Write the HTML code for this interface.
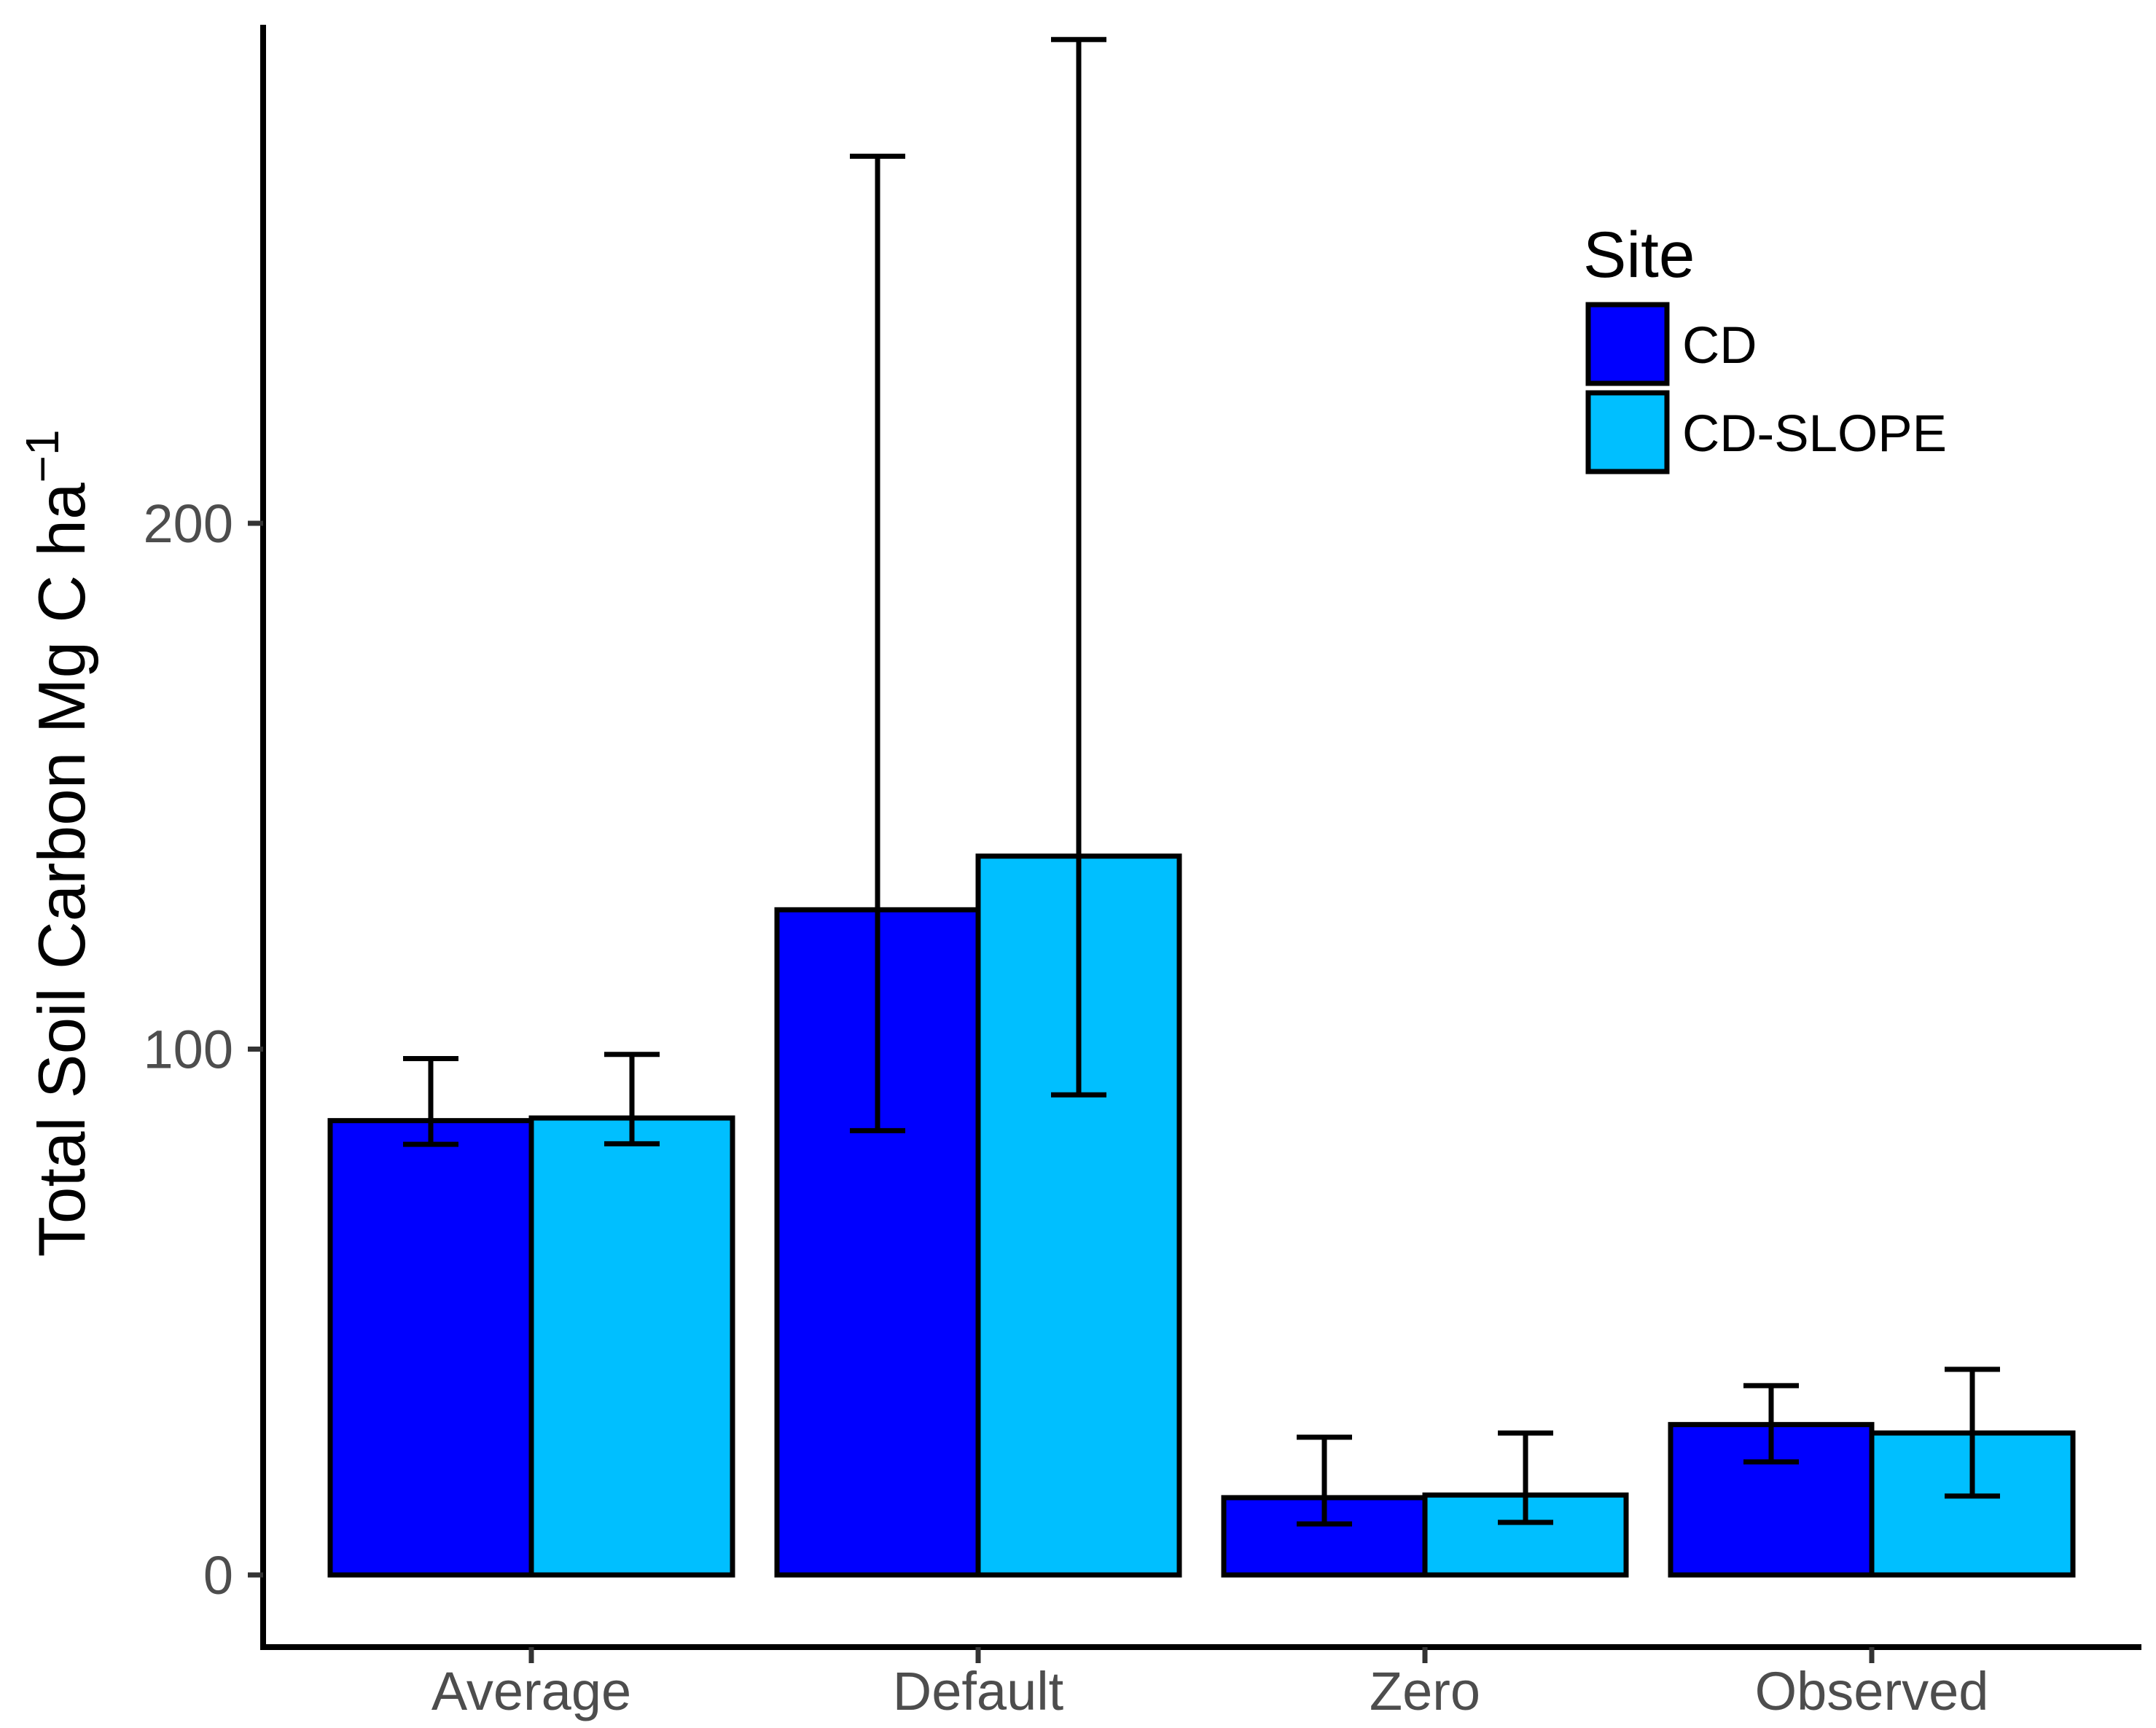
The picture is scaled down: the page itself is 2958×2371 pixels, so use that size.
<!DOCTYPE html>
<html><head><meta charset="utf-8"><style>html,body{margin:0;padding:0;background:#fff}svg{display:block}</style></head>
<body>
<svg id="chart" width="2958" height="2371" xmlns="http://www.w3.org/2000/svg" font-family="'Liberation Sans', sans-serif">
<g id="plot"></g>
</svg>
<script>
const categories = ["Average","Default","Zero","Observed"];
const series = ["CD","CD-SLOPE"];
const colors = ["#0000FF","#00BFFF"];
const cdValues = [86.4,126.5,14.7,28.6];
const cdLow = [81.9,84.5,9.7,21.5];
const cdHigh = [98.2,269.8,26.2,36.0];
const slopeValues = [86.9,136.7,15.2,27.0];
const slopeLow = [82.0,91.3,10.0,15.0];
const slopeHigh = [99.0,292.0,27.0,39.1];
const yTicks = [0,100,200];

const NS="http://www.w3.org/2000/svg";
const g=document.getElementById('plot');
function mk(t,a){const e=document.createElementNS(NS,t);for(const k in a)e.setAttribute(k,a[k]);g.appendChild(e);return e;}
const y0=2161, perUnit=7.215;
function yS(v){return y0-v*perUnit;}
const x0=729, step=613, bw=276;
function xS(i){return x0+i*step;}

// axes
let e=mk('line',{x1:361,y1:34,x2:361,y2:2264,stroke:'#000','stroke-width':8});

e=mk('line',{x1:357,y1:2260,x2:2938,y2:2260,stroke:'#000','stroke-width':8});


yTicks.forEach(t=>{
  const y=yS(t);
  let l=mk('line',{x1:340,y1:y,x2:361,y2:y,stroke:'#333','stroke-width':7});
  
  let tx=mk('text',{x:320,y:y+26,'text-anchor':'end','font-size':74,fill:'#4d4d4d'});
  tx.textContent=t;
  
});

const vals=[cdValues,slopeValues], lows=[cdLow,slopeLow], highs=[cdHigh,slopeHigh];
categories.forEach((c,i)=>{
  const cx=xS(i);
  let l=mk('line',{x1:cx,y1:2260,x2:cx,y2:2282,stroke:'#333','stroke-width':7});
  
  let tx=mk('text',{x:cx,y:2346,'text-anchor':'middle','font-size':74,fill:'#4d4d4d'});
  tx.textContent=c;
  
  for(let s=0;s<2;s++){
    const left=cx-bw+s*bw, top=yS(vals[s][i]);
    let r=mk('rect',{x:left,y:top,width:bw,height:y0-top,fill:colors[s],stroke:'#000','stroke-width':7});
    
    
    const mx=left+bw/2, yl=yS(lows[s][i]), yh=yS(highs[s][i]);
    let eg=mk('path',{d:`M${mx-38},${yh}H${mx+38}M${mx},${yh}V${yl}M${mx-38},${yl}H${mx+38}`,stroke:'#000','stroke-width':7,fill:'none'});
    
  }
});

// y title
let yt=mk('text',{x:0,y:0,transform:'translate(116,1157) rotate(-90)','text-anchor':'middle','font-size':91,fill:'#000'});
yt.innerHTML='Total Soil Carbon Mg C ha<tspan dy="-36" font-size="64">−1</tspan>';


// legend
let lt=mk('text',{x:2172,y:380,'font-size':89,fill:'#000'});lt.textContent='Site';

series.forEach((s,k)=>{
  const y=418+k*121;
  let r=mk('rect',{x:2179,y:y,width:108,height:108,fill:colors[k],stroke:'#000','stroke-width':7});
  
  let t=mk('text',{x:2308,y:y+80,'font-size':71,fill:'#000'});t.textContent=s;
  
});
</script>
</body></html>
